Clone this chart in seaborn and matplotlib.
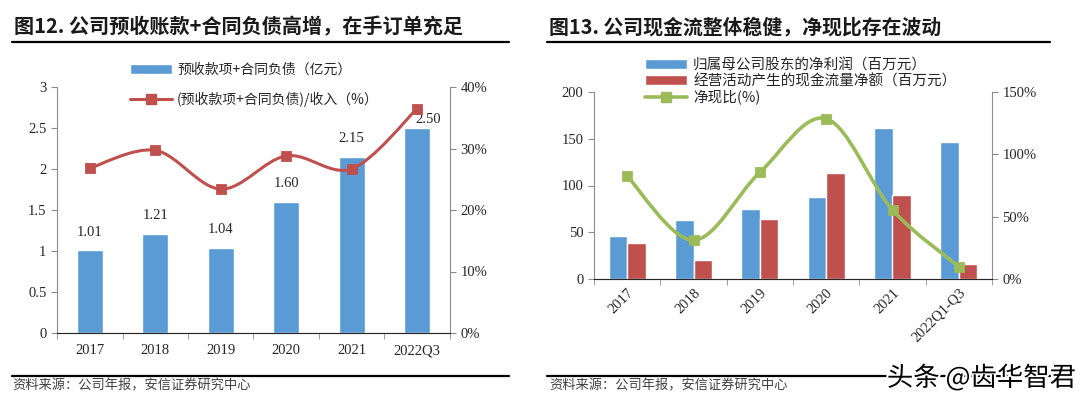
import numpy as np
import pandas as pd
import seaborn as sns
import matplotlib.pyplot as plt
from matplotlib.path import Path
from matplotlib.patches import PathPatch, Patch
from matplotlib.lines import Line2D
import matplotlib.patheffects as pe
from matplotlib.ticker import PercentFormatter

sns.set_style('ticks')
plt.rcParams['font.family'] = ['Noto Sans CJK SC', 'DejaVu Sans']

# chart 12 data
years1 = ['2017', '2018', '2019', '2020', '2021', '2022Q3']
adv_liab = [1.01, 1.21, 1.04, 1.60, 2.15, 2.50]          # 亿元
adv_ratio = [26.8, 29.7, 23.4, 28.8, 26.7, 36.5]         # %

# chart 13 data
years2 = ['2017', '2018', '2019', '2020', '2021', '2022Q1-Q3']
net_profit = [45.7, 63.2, 74.6, 88.2, 161.4, 146.4]      # 百万元
op_cash = [38.2, 20.4, 64.3, 113.2, 90.0, 15.7]          # 百万元
cash_ratio = [82.5, 31.1, 85.5, 128.6, 55.4, 9.9]        # %

BLUE = '#5B9BD5'
RED = '#C0504D'
GREEN = '#9BBB59'
GRAY = '#8C8C8C'
TXT = '#262626'
SERIF = 'Liberation Serif'


def smooth_path(xs, ys):
    # Excel-like smoothed line through the data points
    pts = np.column_stack([xs, ys]).astype(float)
    n = len(pts)
    verts, codes = [pts[0]], [Path.MOVETO]
    for i in range(n - 1):
        p0, p1 = pts[max(i - 1, 0)], pts[i]
        p2, p3 = pts[i + 1], pts[min(i + 2, n - 1)]
        verts += [p1 + (p2 - p0) / 6, p2 - (p3 - p1) / 6, p2]
        codes += [Path.CURVE4] * 3
    return Path(verts, codes)


def style(ax, ax2, n):
    ax.spines['top'].set_visible(False)
    ax.spines['right'].set_visible(False)
    ax2.spines['top'].set_visible(False)
    ax2.spines['left'].set_visible(False)
    ax.spines['left'].set_color(GRAY)
    ax.spines['bottom'].set_color(GRAY)
    ax2.spines['right'].set_color(GRAY)
    ax.set_xlim(-0.5, n - 0.5)
    ax.set_xticks(np.arange(-0.5, n, 1), minor=True)
    ax.tick_params(axis='x', which='major', length=0, pad=8)
    ax.tick_params(axis='x', which='minor', length=4, color=GRAY, direction='out')
    ax.tick_params(axis='y', length=4, color=GRAY, direction='out')
    ax2.tick_params(axis='y', length=4, color=GRAY, direction='out')
    for a in (ax, ax2):
        for lab in a.get_xticklabels() + a.get_yticklabels():
            lab.set_fontfamily(SERIF)
            lab.set_fontsize(10.5)
            lab.set_color(TXT)
    ax.set_xlabel('')
    ax.set_ylabel('')
    ax2.set_ylabel('')


fig = plt.figure(figsize=(10.8, 4.04), dpi=100)
W, H = 1080, 404


def fax(x0, y0, x1, y1):
    return fig.add_axes([x0 / W, 1 - y1 / H, (x1 - x0) / W, (y1 - y0) / H])


# ---------- left chart ----------
ax1 = fax(57, 87, 450, 333)
df1 = pd.DataFrame({'year': years1, 'value': adv_liab})
sns.barplot(data=df1, x='year', y='value', color=BLUE, width=0.4,
            saturation=1, ax=ax1)
ax1.set_ylim(0, 3)
ax1.set_yticks([0, 0.5, 1, 1.5, 2, 2.5, 3])
ax1.set_yticklabels(['0', '0.5', '1', '1.5', '2', '2.5', '3'])
label_off = [(0, 13), (0, 13), (0, 13), (0, 13), (0, 13), (8, 6)]
for i, v in enumerate(adv_liab):
    ax1.annotate(f'{v:.2f}', (i, v), xytext=label_off[i], textcoords='offset points',
                 ha='center', va='center', fontfamily=SERIF, fontsize=10.5, color=TXT)

ax1b = ax1.twinx()
ax1b.set_ylim(0, 40)
ax1b.set_yticks(range(0, 41, 10))
ax1b.yaxis.set_major_formatter(PercentFormatter(decimals=0))
ax1b.add_patch(PathPatch(smooth_path(range(6), adv_ratio), fill=False,
                         edgecolor=RED, lw=2.2, capstyle='round'))
sns.scatterplot(x=list(range(6)), y=adv_ratio, marker='s', s=55, color=RED,
                edgecolor=RED, ax=ax1b, zorder=5)
style(ax1, ax1b, 6)
ax1b.legend([Patch(facecolor=BLUE), Line2D([], [], color=RED, lw=2.2, marker='s', ms=7)],
            ['预收款项+合同负债（亿元）', '(预收款项+合同负债)/收入（%）'],
            loc='upper left', bbox_to_anchor=(130 / W, 1 - 63 / H),
            bbox_transform=fig.transFigure, frameon=False, borderpad=0,
            borderaxespad=0, handlelength=3.0, handletextpad=0.4,
            labelspacing=1.05, prop={'size': 10})

# ---------- right chart ----------
ax2 = fax(594, 92, 992, 279)
df2 = pd.DataFrame({
    'year': years2 * 2,
    'value': net_profit + op_cash,
    'series': ['归属母公司股东的净利润（百万元）'] * 6 + ['经营活动产生的现金流量净额（百万元）'] * 6,
})
sns.barplot(data=df2, x='year', y='value', hue='series', palette=[BLUE, RED],
            width=0.56, saturation=1, ax=ax2, legend=False)
ax2.set_ylim(0, 200)
ax2.set_yticks(range(0, 201, 50))

ax2b = ax2.twinx()
ax2b.set_ylim(0, 150)
ax2b.set_yticks(range(0, 151, 50))
ax2b.yaxis.set_major_formatter(PercentFormatter(decimals=0))
ax2b.add_patch(PathPatch(smooth_path(range(6), cash_ratio), fill=False,
                         edgecolor=GREEN, lw=2.6, capstyle='round'))
sns.scatterplot(x=list(range(6)), y=cash_ratio, marker='s', s=50, color=GREEN,
                edgecolor=GREEN, ax=ax2b, zorder=5)
style(ax2, ax2b, 6)
ax2.tick_params(axis='x', which='major', pad=5)
for lab in ax2.get_xticklabels():
    lab.set_rotation(45)
    lab.set_ha('right')
    lab.set_rotation_mode('anchor')
ax2b.legend([Patch(facecolor=BLUE), Patch(facecolor=RED),
             Line2D([], [], color=GREEN, lw=2.6, marker='s', ms=6.5)],
            ['归属母公司股东的净利润（百万元）', '经营活动产生的现金流量净额（百万元）', '净现比(%)'],
            loc='upper left', bbox_to_anchor=(645 / W, 1 - 58 / H),
            bbox_transform=fig.transFigure, frameon=False, borderpad=0,
            borderaxespad=0, handlelength=2.9, handletextpad=0.4,
            labelspacing=0.12, prop={'size': 10.5})

# ---------- titles, rules, source ----------
fig.text(14 / W, 1 - 27 / H, '图12. 公司预收账款+合同负债高增，在手订单充足',
         fontsize=14.5, fontweight='bold', va='center', color='#1a1a1a')
fig.text(549 / W, 1 - 27 / H, '图13. 公司现金流整体稳健，净现比存在波动',
         fontsize=14.3, fontweight='bold', va='center', color='#1a1a1a')
for x0, x1 in [(12, 509), (547, 1050)]:
    fig.add_artist(Line2D([x0 / W, x1 / W], [1 - 42 / H] * 2, color='black', lw=1.6))
    fig.add_artist(Line2D([x0 / W, x1 / W], [1 - 376 / H] * 2, color='black', lw=1.6))
for x0 in (12, 549):
    fig.text(x0 / W, 1 - 386 / H, '资料来源：公司年报，安信证券研究中心',
             fontsize=9.5, style='italic', va='center', color='#404040')
fig.text(1076 / W, 1 - 378 / H, '头条 @齿华智君', fontsize=19, ha='right', va='center',
         color='black', path_effects=[pe.withStroke(linewidth=3, foreground='white')])

fig.savefig('out.png', dpi=100)
